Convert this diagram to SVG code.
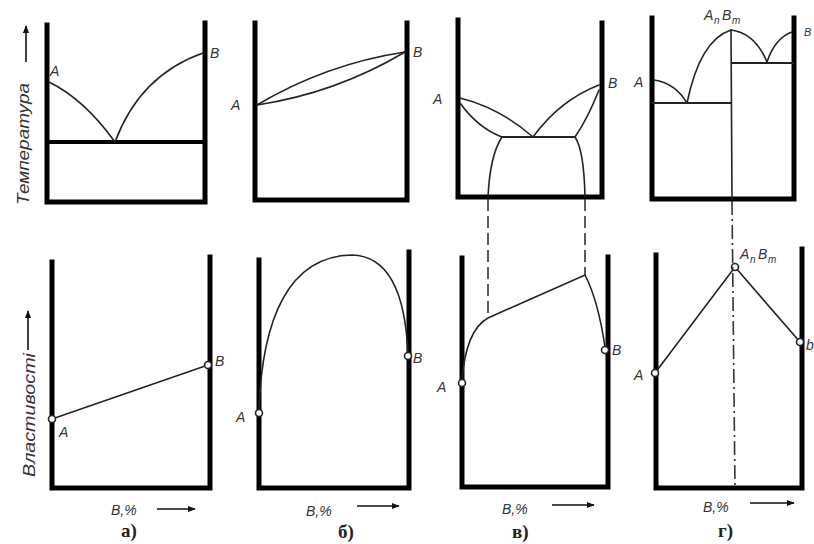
<svg xmlns="http://www.w3.org/2000/svg" width="814" height="544" viewBox="0 0 814 544">
<defs>
<marker id="ah" viewBox="0 0 10 10" refX="9" refY="5" markerWidth="5" markerHeight="5" orient="auto" markerUnits="strokeWidth">
<path d="M0,1 L10,5 L0,9 z" fill="#111"/>
</marker>
<style>
.ax{fill:none;stroke:#000;stroke-width:5;stroke-linecap:square;stroke-linejoin:miter}
.cv{fill:none;stroke:#222;stroke-width:1.6;stroke-linecap:round}
.hz{fill:none;stroke:#222;stroke-width:2}
.th{fill:none;stroke:#000;stroke-width:4}
.ds{fill:none;stroke:#333;stroke-width:1.6;stroke-dasharray:12,5}
.pt{fill:#fff;stroke:#222;stroke-width:1.6}
.lb{font-family:"Liberation Sans",Arial,sans-serif;font-style:italic;font-size:14px;fill:#333}
.sb{font-family:"Liberation Sans",Arial,sans-serif;font-style:italic;font-size:10px;fill:#333}
.pl{font-family:"Liberation Serif","Times New Roman",serif;font-weight:bold;font-size:19px;fill:#222}
.yl{font-family:"Liberation Sans",Arial,sans-serif;font-style:italic;font-size:17px;fill:#333}
.ar{fill:none;stroke:#111;stroke-width:1.6;marker-end:url(#ah)}
</style>
</defs>
<rect width="814" height="544" fill="#fff"/>

<g id="y-axis-labels">
<line class="ar" x1="26" y1="62" x2="26" y2="26"/>
<text class="yl" transform="translate(29,205) rotate(-90)" textLength="122" lengthAdjust="spacingAndGlyphs">Температура</text>
<line class="ar" x1="28" y1="350" x2="28" y2="311"/>
<text class="yl" transform="translate(35,477) rotate(-90)" textLength="124" lengthAdjust="spacingAndGlyphs">Властивості</text>
</g>

<g id="panel-a-top">
<path class="ax" d="M47,25 V202 H205 V23"/>
<line class="th" x1="47" y1="142" x2="207" y2="142"/>
<path class="cv" d="M49,82 Q84,99 115,142"/>
<path class="cv" d="M115,142 Q140,75 203,53"/>
<text class="lb" x="50" y="76">A</text>
<text class="lb" x="210" y="58">B</text>
</g>

<g id="panel-b-top">
<path class="ax" d="M255,23 V200 H407 V23"/>
<path class="cv" d="M257,105 Q326,64 405,52"/>
<path class="cv" d="M257,105 Q336,93 405,52"/>
<text class="lb" x="231" y="110">A</text>
<text class="lb" x="413" y="57">B</text>
</g>

<g id="panel-c-top">
<path class="ax" d="M458,20 V197 H602 V23"/>
<path class="cv" d="M460,98 Q500,108 533,137"/>
<path class="cv" d="M460,103 Q478,128 502,137"/>
<line class="hz" x1="502" y1="137" x2="575" y2="137"/>
<path class="cv" d="M533,137 Q560,100 599,85"/>
<path class="cv" d="M575,137 Q588,118 599,90"/>
<path class="cv" d="M502,137 Q490,155 488,197"/>
<path class="cv" d="M575,137 Q584,150 585,197"/>
<text class="lb" x="433" y="104">A</text>
<text class="lb" x="608" y="88">B</text>
</g>

<g id="panel-d-top">
<path class="ax" d="M652,18 V199 H794 V18"/>
<path class="cv" d="M654,80 Q675,83 687,103"/>
<path class="cv" d="M687,103 Q700,40 731,30"/>
<path class="cv" d="M731,30 Q755,33 767,62"/>
<path class="cv" d="M767,62 Q775,38 792,32"/>
<line class="hz" x1="652" y1="103" x2="731" y2="103"/>
<line class="hz" x1="731" y1="63" x2="794" y2="63"/>
<line class="cv" x1="731" y1="30" x2="732" y2="199"/>
<text class="lb" x="634" y="87">A</text>
<text class="lb" x="704" y="20">A</text><text class="sb" x="714" y="24">n</text>
<text class="lb" x="722" y="20">B</text><text class="sb" x="732" y="24">m</text>
<text class="lb" x="804" y="36" style="font-size:11px">B</text>
</g>

<g id="panel-a-bottom">
<path class="ax" d="M52,262 V488 H210 V257"/>
<line class="cv" x1="52" y1="419" x2="208" y2="365"/>
<circle class="pt" cx="52" cy="419" r="3.5"/>
<circle class="pt" cx="208" cy="365" r="3.5"/>
<text class="lb" x="59" y="437">A</text>
<text class="lb" x="215" y="366">B</text>
<text class="lb" x="111" y="515">B,%</text>
<line class="ar" x1="157" y1="509" x2="195" y2="509"/>
<text class="pl" x="121" y="537">а)</text>
</g>

<g id="panel-b-bottom">
<path class="ax" d="M259,260 V488 H409 V252"/>
<path class="cv" d="M259,410 C262,320 288,256 352,255 C392,256 406,300 408,356"/>
<circle class="pt" cx="259" cy="413" r="3.5"/>
<circle class="pt" cx="408" cy="356" r="3.5"/>
<text class="lb" x="236" y="422">A</text>
<text class="lb" x="413" y="363">B</text>
<text class="lb" x="306" y="516">B,%</text>
<line class="ar" x1="357" y1="506" x2="399" y2="506"/>
<text class="pl" x="338" y="538">б)</text>
</g>

<g id="panel-c-bottom">
<path class="ax" d="M462,258 V487 H608 V257"/>
<path class="cv" d="M462,380 Q466,330 488,318 L585,275 Q598,300 605,347"/>
<circle class="pt" cx="462" cy="383" r="3.5"/>
<circle class="pt" cx="605" cy="350" r="3.5"/>
<text class="lb" x="437" y="392">A</text>
<text class="lb" x="612" y="355">B</text>
<text class="lb" x="502" y="514">B,%</text>
<line class="ar" x1="552" y1="505" x2="594" y2="505"/>
<text class="pl" x="512" y="538">в)</text>
</g>

<g id="panel-d-bottom">
<path class="ax" d="M656,255 V488 H802 V249"/>
<polyline class="cv" points="655,373 735,267 800,342"/>
<circle class="pt" cx="655" cy="373" r="3.5"/>
<circle class="pt" cx="735" cy="267" r="3.5"/>
<circle class="pt" cx="800" cy="342" r="3.5"/>
<text class="lb" x="634" y="380">A</text>
<text class="lb" x="740" y="259">A</text><text class="sb" x="750" y="263">n</text>
<text class="lb" x="758" y="259">B</text><text class="sb" x="768" y="263">m</text>
<text class="lb" x="806" y="350">b</text>
<text class="lb" x="703" y="512">B,%</text>
<line class="ar" x1="750" y1="503" x2="794" y2="503"/>
<text class="pl" x="718" y="537">г)</text>
</g>

<g id="connectors">
<line class="ds" x1="488" y1="199" x2="488" y2="318"/>
<line class="ds" x1="585" y1="199" x2="585" y2="275"/>
<line class="ds" x1="732" y1="201" x2="735" y2="488" style="stroke-dasharray:14,4,2,4"/>
</g>
</svg>
